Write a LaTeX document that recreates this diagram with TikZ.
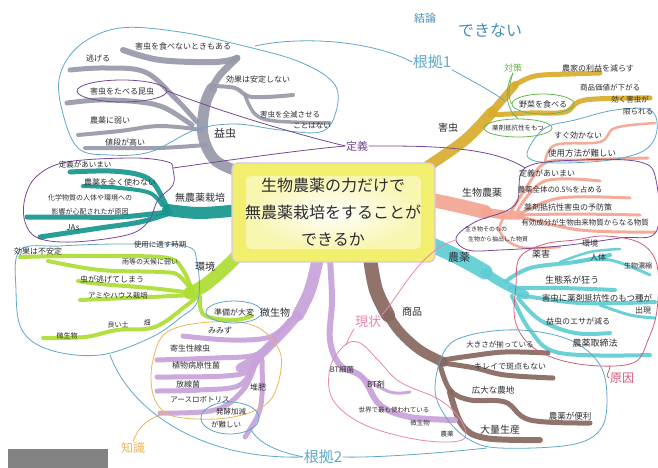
\documentclass[tikz,border=0pt]{standalone}
\usepackage{fontspec}
\setmainfont{Noto Sans CJK JP}
\usetikzlibrary{shapes.geometric}
\definecolor{cgray}{RGB}{152,154,170}
\definecolor{cgold}{RGB}{216,172,44}
\definecolor{csalmon}{RGB}{243,165,145}
\definecolor{ccyan}{RGB}{96,204,212}
\definecolor{cbrown}{RGB}{135,105,95}
\definecolor{clav}{RGB}{200,162,218}
\definecolor{cygreen}{RGB}{172,222,52}
\definecolor{cteal}{RGB}{22,150,142}
\definecolor{lblue}{RGB}{96,168,200}
\definecolor{lpurple}{RGB}{120,72,150}
\definecolor{lpink}{RGB}{232,135,175}
\definecolor{lorange}{RGB}{236,182,84}
\definecolor{lcrim}{RGB}{212,92,124}
\definecolor{lgreen}{RGB}{104,182,84}
\definecolor{tblue}{RGB}{72,142,182}
\definecolor{ink}{RGB}{45,45,50}
\definecolor{cyel}{RGB}{242,238,110}
\definecolor{cbox}{RGB}{130,130,130}
\begin{document}
\begin{tikzpicture}[x=1pt,y=-1pt,
  br/.style={line cap=round,line join=round,opacity=0.92},
  loopline/.style={line width=0.8pt},
  tx/.style={inner sep=0.5pt,text=ink,font=\fontsize{#1}{#1}\selectfont},
  ctx/.style={inner sep=0.5pt,font=\fontsize{#1}{#1}\selectfont},
  sm/.style={smooth,tension=0.6},
  smc/.style={smooth cycle,tension=0.6},
]
\useasboundingbox (0,0) rectangle (658,468);
\fill[white] (0,0) rectangle (658,468);

% ---------- branches ----------
% gray (益虫)
\draw[br,cgray,line width=11pt] plot[sm] coordinates {(240,172) (215,160) (203,135) (205,105) (212,88)};
\draw[br,cgray,line width=7pt] plot[sm] coordinates {(212,88) (220,75) (237,58)};
\draw[br,cgray,line width=6pt] plot[sm] coordinates {(237,58) (215,62) (160,60) (123,50)};
\draw[br,cgray,line width=5pt] plot[sm] coordinates {(197,122) (175,98) (145,72) (105,68) (70,70)};
\draw[br,cgray,line width=5pt] plot[sm] coordinates {(192,125) (165,108) (140,102) (100,100) (67,103)};
\draw[br,cgray,line width=4pt] plot[sm] coordinates {(202,130) (160,126) (120,131) (78,135)};
\draw[br,cgray,line width=4pt] plot[sm] coordinates {(206,145) (160,148) (120,148) (85,148)};
\draw[br,cgray,line width=4pt] plot[sm] coordinates {(212,86) (235,88) (252,97) (293,95)};
\draw[br,cgray,line width=3.5pt] plot[sm] coordinates {(245,95) (255,114) (275,121) (330,123)};
% gold (害虫)
\draw[br,cgold,line width=11pt] plot[sm] coordinates {(428,166) (465,140) (492,112)};
\draw[br,cgold,line width=8pt] plot[sm] coordinates {(492,112) (515,85)};
\draw[br,cgold,line width=5pt] plot[sm] coordinates {(515,85) (535,76) (570,74) (600,73)};
\draw[br,cgold,line width=5pt] plot[sm] coordinates {(490,115) (530,113) (565,112) (585,100) (650,98)};
% salmon (生物農薬)
\draw[br,csalmon,line width=14pt] plot[sm] coordinates {(432,200) (460,206) (485,212)};
\draw[br,csalmon,line width=9pt] plot[sm] coordinates {(485,212) (505,215) (520,215)};
\draw[br,csalmon,line width=3pt] plot[sm] coordinates {(510,213) (528,185) (545,163) (580,160) (648,158)};
\draw[br,csalmon,line width=2.5pt] plot[sm] coordinates {(545,163) (555,145) (600,142) (615,128) (655,123)};
\draw[br,csalmon,line width=3pt] plot[sm] coordinates {(518,210) (545,181) (600,181)};
\draw[br,csalmon,line width=3pt] plot[sm] coordinates {(520,214) (560,198) (630,198)};
\draw[br,csalmon,line width=3pt] plot[sm] coordinates {(520,215) (570,214) (640,215)};
\draw[br,csalmon,line width=3pt] plot[sm] coordinates {(518,216) (580,230) (655,232)};
\draw[br,csalmon,line width=2.5pt] plot[sm] coordinates {(505,215) (500,232) (520,247) (560,247)};
% cyan (農薬)
\draw[br,ccyan,line width=15pt] plot[sm] coordinates {(432,245) (460,258) (485,272)};
\draw[br,ccyan,line width=9pt] plot[sm] coordinates {(485,272) (500,282) (525,295)};
\draw[br,ccyan,line width=4pt] plot[sm] coordinates {(505,282) (530,268) (575,262) (610,255)};
\draw[br,ccyan,line width=3pt] plot[sm] coordinates {(575,262) (610,260) (650,275)};
\draw[br,ccyan,line width=2.5pt] plot[sm] coordinates {(560,262) (590,252) (620,249)};
\draw[br,ccyan,line width=4pt] plot[sm] coordinates {(510,288) (560,288) (615,290)};
\draw[br,ccyan,line width=4pt] plot[sm] coordinates {(520,295) (580,303) (655,302)};
\draw[br,ccyan,line width=3pt] plot[sm] coordinates {(600,305) (630,315) (655,318)};
\draw[br,ccyan,line width=4pt] plot[sm] coordinates {(518,298) (540,320) (575,333) (610,333)};
\draw[br,ccyan,line width=4pt] plot[sm] coordinates {(512,296) (530,330) (560,353) (650,355)};
% brown (商品)
\draw[br,cbrown,line width=14pt] plot[sm] coordinates {(370,258) (376,290) (388,315)};
\draw[br,cbrown,line width=10pt] plot[sm] coordinates {(388,315) (400,332) (420,350) (443,362)};
\draw[br,cbrown,line width=5pt] plot[sm] coordinates {(443,360) (470,356) (505,352) (548,353)};
\draw[br,cbrown,line width=5pt] plot[sm] coordinates {(443,363) (475,368) (505,375) (553,378)};
\draw[br,cbrown,line width=5pt] plot[sm] coordinates {(440,365) (450,390) (470,400) (505,402) (530,420) (590,423)};
\draw[br,cbrown,line width=6pt] plot[sm] coordinates {(450,392) (462,425) (485,438) (540,440)};
% lavender (微生物)
\draw[br,clav,line width=12pt] plot[sm] coordinates {(318,258) (310,290) (298,315)};
\draw[br,clav,line width=9pt] plot[sm] coordinates {(298,315) (285,330) (260,355) (240,368)};
\draw[br,clav,line width=5pt] plot[sm] coordinates {(290,320) (270,337) (230,340) (183,336)};
\draw[br,clav,line width=5pt] plot[sm] coordinates {(275,340) (255,355) (215,358) (157,360)};
\draw[br,clav,line width=5pt] plot[sm] coordinates {(265,350) (250,370) (225,376) (157,377)};
\draw[br,clav,line width=5pt] plot[sm] coordinates {(255,360) (240,385) (200,390) (157,391)};
\draw[br,clav,line width=5pt] plot[sm] coordinates {(255,365) (243,390) (215,410) (160,413)};
\draw[br,clav,line width=5pt] plot[sm] coordinates {(262,360) (262,395) (258,415) (245,437)};
\draw[br,clav,line width=6pt] plot[sm] coordinates {(330,260) (332,300) (330,340) (340,365) (362,377) (380,405) (410,417) (455,420)};
\draw[br,clav,line width=3pt] plot[sm] coordinates {(362,377) (390,392) (410,392)};
% yellow-green (環境)
\draw[br,cygreen,line width=13pt] plot[sm] coordinates {(240,253) (225,268) (205,285) (190,293)};
\draw[br,cygreen,line width=4pt] plot[sm] coordinates {(192,290) (183,270) (168,258) (115,256) (65,256) (20,257)};
\draw[br,cygreen,line width=4pt] plot[sm] coordinates {(192,291) (178,275) (160,272) (100,270) (48,261)};
\draw[br,cygreen,line width=4pt] plot[sm] coordinates {(193,293) (150,288) (100,284) (78,281)};
\draw[br,cygreen,line width=4pt] plot[sm] coordinates {(193,295) (150,297) (80,300)};
\draw[br,cygreen,line width=4pt] plot[sm] coordinates {(197,297) (187,305) (155,327) (117,330) (85,337) (43,338)};
\draw[br,cygreen,line width=4pt] plot[sm] coordinates {(200,297) (204,315) (233,320) (252,316)};
% teal (無農薬栽培)
\draw[br,cteal,line width=12pt] plot[sm] coordinates {(240,210) (200,213) (168,210)};
\draw[br,cteal,line width=5pt] plot[sm] coordinates {(168,210) (155,185) (140,175) (110,171) (70,172)};
\draw[br,cteal,line width=4pt] plot[sm] coordinates {(162,205) (150,193) (120,188) (83,186)};
\draw[br,cteal,line width=5pt] plot[sm] coordinates {(168,212) (120,217) (70,217) (27,217)};
\draw[br,cteal,line width=5pt] plot[sm] coordinates {(170,213) (140,222) (100,228) (40,237)};

% ---------- central box ----------
\node (box) [rectangle,rounded corners=6pt,fill=cyel,draw=lpurple!30,line width=1.2pt,minimum width=203pt,minimum height=99pt] at (333.5,212.5) {};
\shade[rounded corners=5pt,inner color=white,outer color=cyel!55] (246,176) rectangle (421,249);
\node (q) [align=center,text=ink,font=\fontsize{16}{27}\selectfont] at (333,212) {生物農薬の力だけで\\無農薬栽培をすることが\\できるか};

% ---------- top labels ----------
\node (ketsu) [ctx=11,text=tblue] at (425,18) {結論};
\node (deki) [ctx=16,text=tblue] at (490,30) {できない};
\node (k1) [ctx=15,text=lblue] at (432,62) {根拠1};
\node (k2) [ctx=15,text=lblue] at (323,457) {根拠2};
\node (chi) [ctx=12,text=lorange] at (133,448) {知識};
\node (gen) [ctx=13,text=lpink] at (368,322) {現状};
\node (gin) [ctx=12,text=lcrim] at (622,378) {原因};
\node (tei) [ctx=11,text=lpurple] at (357,146) {定義};
\node (ts) [ctx=9,text=lgreen] at (513,68) {対策};

% ---------- loops ----------
\draw[lblue,loopline] plot[smc] coordinates {(78,148) (62,110) (60,75) (80,45) (120,28) (180,32) (240,45) (300,62) (335,85) (335,115) (320,132) (280,130) (235,124) (195,130) (150,152) (110,155)};
\draw[lblue,loopline] (255,46) .. controls (300,36) and (370,40) .. (k1.west);
\draw[lblue,loopline] (k1.south east) .. controls (470,80) and (490,90) .. (505,101);
\draw[lblue,loopline] plot[smc] coordinates {(528,150) (545,128) (575,120) (615,110) (650,110) (657,130) (645,150) (610,160) (560,163) (532,160)};
\draw[lpurple,loopline] plot[smc] coordinates {(173,170) (173,185) (158,200) (148,222) (127,235) (73,242) (38,238) (25,222) (25,198) (37,176) (67,162) (133,158) (168,162)};
\draw[lpurple,loopline] plot[smc] coordinates {(525,168) (580,160) (640,162) (656,180) (656,232) (620,238) (560,246) (500,250) (468,250) (456,238) (475,222) (515,205)};
\draw[lpurple,loopline] (173,168) .. controls (230,160) and (300,150) .. (tei.west);
\draw[lpurple,loopline] (tei.east) .. controls (420,146) and (490,145) .. (525,168);
\draw[lcrim,loopline] plot[smc] coordinates {(520,257) (545,244) (575,240) (605,236) (640,243) (657,265) (657,310) (648,340) (635,362) (600,366) (560,360) (530,345) (515,320) (516,285)};
\draw[lcrim,loopline] (610,366) .. controls (610,372) and (604,376) .. (gin.west);
\draw[lblue,loopline] plot[smc] coordinates {(445,350) (470,335) (520,330) (570,340) (600,365) (607,400) (600,430) (570,445) (500,448) (470,440) (448,420) (435,390)};
\draw[lblue,loopline] (k2.east) .. controls (380,458) and (450,452) .. (487,448);
\draw[lpink,loopline] plot[smc] coordinates {(345,345) (330,368) (333,400) (365,425) (420,440) (462,440) (462,422) (440,400) (400,382) (378,360) (360,343)};
\draw[lpink,loopline] (gen.south west) .. controls (350,335) and (348,340) .. (346,345);
\draw[lpink,loopline] (gen.north east) .. controls (400,295) and (420,250) .. (456,240);
\draw[lorange,loopline] plot[smc] coordinates {(153,360) (167,332) (210,322) (255,326) (280,352) (277,387) (262,407) (227,418) (183,418) (162,410) (152,390)};
\draw[lorange,loopline] (163,414) .. controls (145,420) and (138,428) .. (chi.north);
\draw[lblue,loopline] plot[smc] coordinates {(20,250) (60,246) (120,244) (185,246) (197,262) (198,300) (180,318) (150,338) (100,355) (50,350) (22,330) (16,290)};
\draw[lblue,loopline] (110,355) .. controls (130,410) and (200,460) .. (k2.west);
\node (hakko) [ellipse,draw=lblue,loopline,minimum width=58pt,minimum height=32pt] at (230,418) {};
\draw[lblue,loopline] (hakko.south east) .. controls (260,445) and (280,452) .. (k2.west);
\node (junbi) [ellipse,draw=lblue,loopline,minimum width=56pt,minimum height=22pt] at (234,312) {};
\node (konchu) [ellipse,draw=lpurple,loopline,minimum width=90pt,minimum height=22pt] at (122,91) {};
\draw[lpurple,loopline] (konchu.east) .. controls (230,115) and (300,135) .. (tei.west);
\node (yasai) [ellipse,draw=lgreen,loopline,minimum width=62pt,minimum height=20pt] at (543,104) {};
\node (yakuz) [ellipse,draw=lgreen,loopline,minimum width=68pt,minimum height=18pt] at (518,128) {};
\draw[lgreen,loopline] (ts.south) .. controls (508,88) and (508,98) .. (yasai.west);
\draw[lgreen,loopline] (ts.south) .. controls (504,90) and (505,108) .. (yakuz.north);

% ---------- labels: gray ----------
\node (g0) [tx=11] at (225,133) {益虫};
\node (g1) [tx=8] at (183,46) {害虫を食べないときもある};
\node (g2) [tx=8] at (98,58) {逃げる};
\node (g3) [tx=8] at (122,91) {害虫をたべる昆虫};
\node (g4) [tx=8] at (258,79) {効果は安定しない};
\node (g5) [tx=7.5] at (290,115) {害虫を全滅させる};
\node (g6) [tx=7.5] at (312,126) {ことはない};
\node (g7) [tx=8] at (110,120) {農薬に弱い};
\node (g8) [tx=8] at (125,142) {値段が高い};
% gold
\node (h0) [tx=10] at (448,128) {害虫};
\node (h1) [tx=8] at (598,68) {農家の利益を減らす};
\node (h2) [tx=8] at (543,104) {野菜を食べる};
\node (h3) [tx=7.5] at (610,88) {商品価値が下がる};
\node (h4) [tx=6.5] at (518,128) {薬剤抵抗性をもつ};
\node (h5) [tx=8] at (578,135) {すぐ効かない};
\node (h6) [tx=7.5] at (630,100) {効く害虫が};
\node (h7) [tx=7.5] at (638,112) {限られる};
\node (h8) [tx=8.5] at (582,153) {使用方法が難しい};
% salmon
\node (s0) [tx=10] at (482,193) {生物農薬};
\node (s1) [tx=8] at (547,173) {定義があいまい};
\node (s2) [tx=7.5] at (560,190) {農薬全体の0.5\%を占める};
\node (s3) [tx=8] at (568,207) {薬剤抵抗性害虫の予防策};
\node (s4) [tx=7.5] at (585,223) {有効成分が生物由来物質からなる物質};
\node (s5) [tx=6] at (486,229) {生き物そのもの};
\node (s6) [tx=6] at (498,239) {生物から抽出した物質};
% cyan
\node (n0) [tx=11] at (459,257) {農薬};
\node (n1) [tx=9] at (541,254) {薬害};
\node (n2) [tx=8] at (590,243) {環境};
\node (n3) [tx=8] at (598,257) {人体};
\node (n4) [tx=7] at (638,266) {生物濃縮};
\node (n5) [tx=9] at (572,280) {生態系が狂う};
\node (n6) [tx=8.5] at (597,298) {害虫に薬剤抵抗性のもつ種が};
\node (n7) [tx=8] at (643,311) {出現};
\node (n8) [tx=8] at (578,321) {益虫のエサが減る};
\node (n9) [tx=9] at (595,343) {農薬取締法};
% brown
\node (b0) [tx=10] at (412,312) {商品};
\node (b1) [tx=7.5] at (500,345) {大きさが揃っている};
\node (b2) [tx=8] at (510,366) {キレイで斑点もない};
\node (b3) [tx=8.5] at (493,390) {広大な農地};
\node (b4) [tx=8.5] at (570,416) {農薬が便利};
\node (b5) [tx=10] at (500,430) {大量生産};
% pink (現状)
\node (p1) [tx=7.5] at (342,370) {BT細菌};
\node (p2) [tx=8] at (376,385) {BT剤};
\node (p3) [tx=6.5] at (394,410) {世界で最も使われている};
\node (p4) [tx=6.5] at (420,423) {微生物};
\node (p5) [tx=6.5] at (447,434) {農薬};
% lavender
\node (m0) [tx=10] at (275,313) {微生物};
\node (m1) [tx=8] at (220,330) {みみず};
\node (m2) [tx=8] at (190,348) {寄生性線虫};
\node (m3) [tx=8] at (196,365) {植物病原性菌};
\node (m4) [tx=8] at (188,384) {放線菌};
\node (m5) [tx=7.5] at (200,400) {アースロボトリス};
\node (m6) [tx=8] at (258,387) {堆肥};
\node (m7) [tx=7.5] at (231,412) {発酵加減};
\node (m8) [tx=7.5] at (226,425) {が難しい};
% yellow-green
\node (e0) [tx=10] at (205,267) {環境};
\node (e1) [tx=8] at (38,251) {効果は不安定};
\node (e2) [tx=7.5] at (160,245) {使用に適す時期};
\node (e3) [tx=7] at (150,262) {雨等の天候に弱い};
\node (e4) [tx=8] at (112,279) {虫が逃げてしまう};
\node (e5) [tx=7.5] at (118,296) {アミやハウス栽培};
\node (e6) [tx=8] at (234,312) {準備が大変};
\node (e7) [tx=7] at (118,325) {良い土};
\node (e8) [tx=7] at (147,323) {畑};
\node (e9) [tx=7] at (67,336) {微生物};
% teal
\node (w0) [tx=10] at (200,198) {無農薬栽培};
\node (w1) [tx=7.5] at (85,165) {定義があいまい};
\node (w2) [tx=8] at (120,182) {農薬を全く使わない};
\node (w3) [tx=7] at (90,198) {化学物質の人体や環境への};
\node (w4) [tx=7] at (90,212) {影響が心配されたが原因};
\node (w5) [tx=8] at (73,228) {JAs};

\fill[cbox] (8,449) rectangle (108,468);
\end{tikzpicture}
\end{document}
